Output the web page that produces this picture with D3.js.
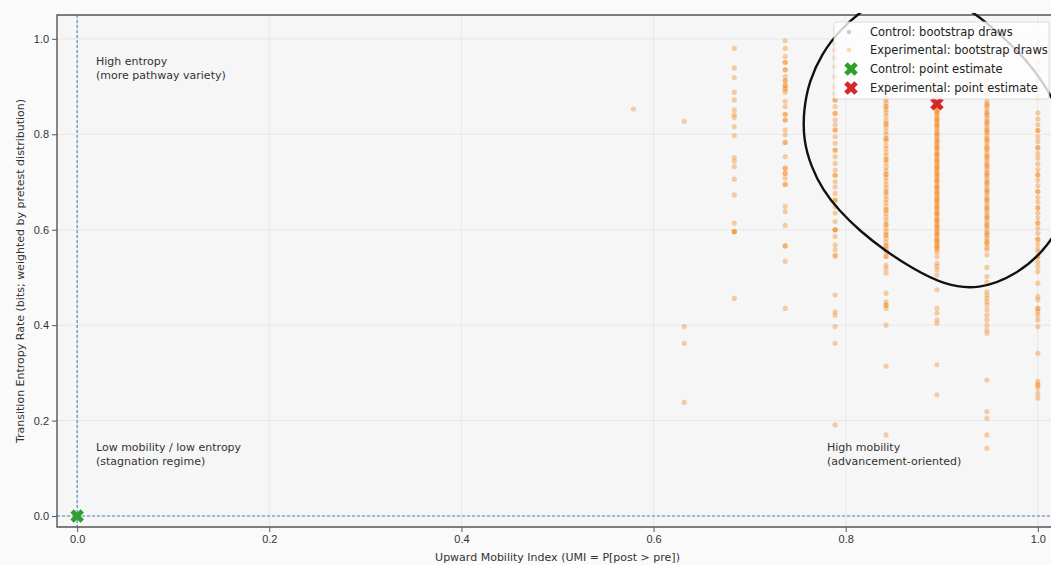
<!DOCTYPE html>
<html>
<head>
<meta charset="utf-8">
<script src="https://cdn.jsdelivr.net/npm/d3@7"></script>
<style>
  body { margin: 0; background: #fafafa; }
  svg { display: block; font-family: "DejaVu Sans", sans-serif; }
  .tick text { fill: #333; font-size: 11px; }
  .note { fill: #333; font-size: 11px; }
</style>
</head>
<body>
<svg id="chart" width="1051" height="565"></svg>
<script>
"use strict";

// tick values
var umiTicks = [0.0, 0.2, 0.4, 0.6, 0.8, 1.0];
var entropyTicks = [0.0, 0.2, 0.4, 0.6, 0.8, 1.0];

// experimental bootstrap draws, one list per UMI column (UMI = k/19)
var expUmi = [0.579, 0.632, 0.684, 0.737, 0.789, 0.842, 0.895, 0.947, 1.0];

var entropyAt579 = [0.853];
var entropyAt632 = [0.827, 0.397, 0.362, 0.238];
var entropyAt684 = [0.980, 0.939, 0.919, 0.888, 0.872, 0.851, 0.841, 0.835, 0.816, 0.797,
  0.751, 0.743, 0.732, 0.706, 0.673, 0.614, 0.596, 0.596, 0.596, 0.456];
var entropyAt737 = [0.996, 0.980, 0.963, 0.951, 0.951, 0.935, 0.935, 0.921, 0.912, 0.912,
  0.902, 0.902, 0.895, 0.895, 0.888, 0.869, 0.858, 0.842, 0.842, 0.830, 0.830, 0.809, 0.799,
  0.783, 0.783, 0.753, 0.729, 0.729, 0.718, 0.718, 0.708, 0.695, 0.695, 0.649, 0.638, 0.609,
  0.566, 0.566, 0.534, 0.435];
var entropyAt789 = [0.991, 0.977, 0.960, 0.942, 0.921, 0.900, 0.886, 0.872, 0.872, 0.858,
  0.844, 0.844, 0.830, 0.820, 0.809, 0.809, 0.795, 0.781, 0.767, 0.767, 0.753, 0.739, 0.725,
  0.714, 0.714, 0.701, 0.690, 0.676, 0.662, 0.662, 0.648, 0.635, 0.617, 0.600, 0.600, 0.600,
  0.586, 0.568, 0.558, 0.547, 0.544, 0.463, 0.428, 0.421, 0.397, 0.362, 0.191];
var entropyAt842 = [0.990, 0.975, 0.962, 0.948, 0.931, 0.918, 0.903, 0.889, 0.876, 0.872,
  0.866, 0.858, 0.858, 0.851, 0.845, 0.838, 0.829, 0.822, 0.822, 0.815, 0.806, 0.799, 0.791,
  0.791, 0.786, 0.777, 0.770, 0.762, 0.755, 0.747, 0.747, 0.740, 0.731, 0.724, 0.716, 0.716,
  0.709, 0.702, 0.694, 0.687, 0.679, 0.679, 0.671, 0.664, 0.657, 0.649, 0.641, 0.641, 0.634,
  0.627, 0.619, 0.611, 0.611, 0.603, 0.596, 0.589, 0.589, 0.582, 0.574, 0.566, 0.566, 0.559,
  0.554, 0.544, 0.544, 0.526, 0.519, 0.509, 0.467, 0.449, 0.442, 0.442, 0.435, 0.400, 0.314,
  0.170];
var entropyAt895 = [0.995, 0.982, 0.968, 0.951, 0.937, 0.922, 0.906, 0.893, 0.878,
  0.866, 0.861, 0.858, 0.857, 0.852, 0.848, 0.846, 0.843, 0.839, 0.834, 0.831, 0.829, 0.825,
  0.820, 0.818, 0.816, 0.811, 0.806, 0.802, 0.800, 0.797, 0.793, 0.788, 0.786, 0.783, 0.779,
  0.774, 0.772, 0.770, 0.765, 0.760, 0.758, 0.756, 0.751, 0.747, 0.744, 0.742, 0.737, 0.733,
  0.731, 0.728, 0.724, 0.719, 0.717, 0.714, 0.710, 0.705, 0.703, 0.701, 0.696, 0.691, 0.689,
  0.687, 0.682, 0.678, 0.676, 0.673, 0.668, 0.664, 0.662, 0.659, 0.655, 0.650, 0.648, 0.645,
  0.641, 0.636, 0.634, 0.632, 0.627, 0.622, 0.620, 0.618, 0.613, 0.609, 0.606, 0.604, 0.599,
  0.595, 0.592, 0.590, 0.586, 0.581, 0.578, 0.576, 0.572, 0.567, 0.565, 0.563, 0.558, 0.554,
  0.544, 0.530, 0.523, 0.516, 0.505, 0.474, 0.435, 0.425, 0.411, 0.404, 0.317, 0.254];
var entropyAt947 = [0.990, 0.975, 0.958, 0.944, 0.929, 0.913, 0.899, 0.884,
  0.870, 0.864, 0.861, 0.858, 0.852, 0.846, 0.843, 0.840, 0.834, 0.828, 0.825, 0.822, 0.816,
  0.810, 0.807, 0.804, 0.798, 0.792, 0.789, 0.786, 0.780, 0.774, 0.771, 0.768, 0.762, 0.756,
  0.753, 0.750, 0.744, 0.738, 0.735, 0.732, 0.726, 0.720, 0.717, 0.714, 0.708, 0.702, 0.699,
  0.696, 0.690, 0.684, 0.681, 0.678, 0.672, 0.666, 0.663, 0.660, 0.654, 0.648, 0.645, 0.642,
  0.636, 0.630, 0.627, 0.624, 0.618, 0.612, 0.609, 0.606, 0.600, 0.594, 0.591, 0.588, 0.582,
  0.576, 0.573, 0.570, 0.563, 0.558, 0.547, 0.521, 0.502, 0.490, 0.470, 0.463, 0.456, 0.449,
  0.442, 0.432, 0.421, 0.411, 0.400, 0.390, 0.383, 0.285, 0.219, 0.205, 0.170, 0.142];
var entropyAt1000 = [0.990, 0.972, 0.951, 0.933, 0.912, 0.893, 0.878,
  0.845, 0.832, 0.820, 0.808, 0.808, 0.795, 0.785, 0.772, 0.772, 0.760, 0.750, 0.738, 0.726,
  0.715, 0.715, 0.704, 0.692, 0.680, 0.680, 0.668, 0.658, 0.646, 0.646, 0.635, 0.625, 0.614,
  0.614, 0.603, 0.592, 0.580, 0.580, 0.570, 0.560, 0.554, 0.544, 0.544, 0.533, 0.523, 0.512,
  0.488, 0.460, 0.453, 0.435, 0.435, 0.428, 0.421, 0.411, 0.397, 0.341, 0.282, 0.275, 0.275,
  0.268, 0.257, 0.247];

var expColumns = [entropyAt579, entropyAt632, entropyAt684, entropyAt737, entropyAt789,
  entropyAt842, entropyAt895, entropyAt947, entropyAt1000];

// control bootstrap draws all sit at the origin
var controlUmi = [0.0, 0.0, 0.0];
var controlEntropy = [0.0, 0.0, 0.0];

// point estimates [UMI, entropy]
var controlPoint = [0.0, 0.0];
var expPoint = [0.895, 0.864];

var legendLabels = ["Control: bootstrap draws", "Experimental: bootstrap draws",
  "Control: point estimate", "Experimental: point estimate"];

// hand-drawn ring around the top-right cluster, traced in data units
var ringUmi = [0.870, 0.915, 0.945, 0.980, 1.008, 1.026, 1.036, 1.032, 1.012, 0.978,
  0.938, 0.903, 0.870, 0.841, 0.815, 0.793, 0.776, 0.764, 0.756, 0.756, 0.762, 0.775,
  0.793, 0.826];
var ringEntropy = [1.120, 1.080, 1.038, 0.975, 0.905, 0.830, 0.740, 0.645, 0.565, 0.505,
  0.474, 0.484, 0.518, 0.556, 0.597, 0.640, 0.684, 0.732, 0.788, 0.850, 0.912, 0.968,
  1.018, 1.075];

var svg = d3.select("#chart");
var plotLeft = 57, plotTop = 15, plotBottom = 527, plotRight = 1058;

var x = d3.scaleLinear().domain([-0.021, 1.021]).range([plotLeft, plotRight]);
var y = d3.scaleLinear().domain([-0.023, 1.05]).range([plotBottom, plotTop]);

svg.append("rect")
  .attr("x", plotLeft).attr("y", plotTop)
  .attr("width", plotRight - plotLeft).attr("height", plotBottom - plotTop)
  .attr("fill", "#f6f6f6");

svg.append("clipPath").attr("id", "plot-clip")
  .append("rect")
  .attr("x", plotLeft).attr("y", plotTop)
  .attr("width", plotRight - plotLeft).attr("height", plotBottom - plotTop);

svg.append("clipPath").attr("id", "ring-clip")
  .append("rect")
  .attr("x", 0).attr("y", plotTop - 2)
  .attr("width", 1100).attr("height", 600);

// grid
var grid = svg.append("g");
grid.selectAll(".vgrid").data(umiTicks).enter().append("line")
  .attr("x1", function(d) { return x(d); }).attr("x2", function(d) { return x(d); })
  .attr("y1", plotTop).attr("y2", plotBottom)
  .attr("stroke", "#e3e3e3").attr("stroke-width", 0.8);
grid.selectAll(".hgrid").data(entropyTicks).enter().append("line")
  .attr("y1", function(d) { return y(d); }).attr("y2", function(d) { return y(d); })
  .attr("x1", plotLeft).attr("x2", plotRight)
  .attr("stroke", "#e3e3e3").attr("stroke-width", 0.8);

// reference lines at zero
svg.append("line")
  .attr("x1", x(0)).attr("x2", x(0)).attr("y1", plotTop).attr("y2", plotBottom)
  .attr("stroke", "#4a86c4").attr("stroke-width", 1.1).attr("stroke-dasharray", "3,2");
svg.append("line")
  .attr("y1", y(0)).attr("y2", y(0)).attr("x1", plotLeft).attr("x2", plotRight)
  .attr("stroke", "#4a86c4").attr("stroke-width", 1.1).attr("stroke-dasharray", "3,2");

var plot = svg.append("g").attr("clip-path", "url(#plot-clip)");

var expPoints = [];
expColumns.forEach(function(col, i) {
  col.forEach(function(v) { expPoints.push([expUmi[i], v]); });
});

plot.selectAll(".ctrl").data(controlUmi).enter().append("circle")
  .attr("cx", function(d) { return x(d); })
  .attr("cy", function(d, i) { return y(controlEntropy[i]); })
  .attr("r", 2.6).attr("fill", "#1f77b4").attr("fill-opacity", 0.25);

plot.selectAll(".exp").data(expPoints).enter().append("circle")
  .attr("cx", function(d) { return x(d[0]); })
  .attr("cy", function(d) { return y(d[1]); })
  .attr("r", 2.6).attr("fill", "#f5861a").attr("fill-opacity", 0.38);

// filled "X" marker like matplotlib's
var xMarker = d3.symbol().type(d3.symbolCross).size(115);

plot.append("path")
  .attr("d", xMarker)
  .attr("transform", "translate(" + x(controlPoint[0]) + "," + y(controlPoint[1]) + ") rotate(45)")
  .attr("fill", "#2ca02c");
plot.append("path")
  .attr("d", xMarker)
  .attr("transform", "translate(" + x(expPoint[0]) + "," + y(expPoint[1]) + ") rotate(45)")
  .attr("fill", "#d62728");

// axes
var xAxis = d3.axisBottom(x).tickValues(umiTicks).tickFormat(d3.format(".1f")).tickSize(5).tickPadding(3);
var yAxis = d3.axisLeft(y).tickValues(entropyTicks).tickFormat(d3.format(".1f")).tickSize(5).tickPadding(3);

svg.append("g").attr("transform", "translate(0," + plotBottom + ")").call(xAxis)
  .call(function(g) { g.select(".domain").remove(); })
  .selectAll("line").attr("stroke", "#555");
svg.append("g").attr("transform", "translate(" + plotLeft + ",0)").call(yAxis)
  .call(function(g) { g.select(".domain").remove(); })
  .selectAll("line").attr("stroke", "#555");

svg.append("path")
  .attr("d", "M" + plotRight + "," + plotTop + "H" + plotLeft + "V" + plotBottom + "H" + plotRight)
  .attr("fill", "none").attr("stroke", "#555").attr("stroke-width", 1.4);

svg.append("text")
  .attr("x", x(0.5)).attr("y", 561)
  .attr("text-anchor", "middle").attr("fill", "#333").style("font-size", "11px")
  .text("Upward Mobility Index (UMI = P[post > pre])");
svg.append("text")
  .attr("transform", "translate(24," + ((plotTop + plotBottom) / 2) + ") rotate(-90)")
  .attr("text-anchor", "middle").attr("fill", "#333").style("font-size", "11px")
  .text("Transition Entropy Rate (bits; weighted by pretest distribution)");

// region notes
function note(px, py, lines) {
  var t = svg.append("text").attr("class", "note").attr("x", px).attr("y", py);
  lines.forEach(function(s, i) {
    t.append("tspan").attr("x", px).attr("dy", i === 0 ? 0 : 13.5).text(s);
  });
}
note(96, 65, ["High entropy", "(more pathway variety)"]);
note(96, 451, ["Low mobility / low entropy", "(stagnation regime)"]);
note(827, 451, ["High mobility", "(advancement-oriented)"]);

// ring sits under the legend, so the legend box greys it out
var ringLine = d3.line()
  .x(function(d) { return x(d); })
  .y(function(d, i) { return y(ringEntropy[i]); })
  .curve(d3.curveBasisClosed);
svg.append("path")
  .attr("d", ringLine(ringUmi))
  .attr("clip-path", "url(#ring-clip)")
  .attr("fill", "none").attr("stroke", "#111").attr("stroke-width", 2.4);

// legend
var lg = svg.append("g");
lg.append("rect")
  .attr("x", 834).attr("y", 22).attr("width", 215).attr("height", 77).attr("rx", 3)
  .attr("fill", "#ffffff").attr("fill-opacity", 0.8)
  .attr("stroke", "#d6d6d6").attr("stroke-width", 0.8);
var legendY = [32, 50, 69, 88];
lg.append("circle").attr("cx", 849).attr("cy", legendY[0]).attr("r", 2.2)
  .attr("fill", "#1f77b4").attr("fill-opacity", 0.3);
lg.append("circle").attr("cx", 849).attr("cy", legendY[1]).attr("r", 2.2)
  .attr("fill", "#ff7f0e").attr("fill-opacity", 0.3);
lg.append("path").attr("d", xMarker)
  .attr("transform", "translate(851," + legendY[2] + ") rotate(45)").attr("fill", "#2ca02c");
lg.append("path").attr("d", xMarker)
  .attr("transform", "translate(851," + legendY[3] + ") rotate(45)").attr("fill", "#d62728");
lg.selectAll(".lt").data(legendLabels).enter().append("text")
  .attr("x", 870).attr("y", function(d, i) { return legendY[i] + 4; })
  .attr("fill", "#222").style("font-size", "11.5px")
  .text(function(d) { return d; });
</script>
</body>
</html>
